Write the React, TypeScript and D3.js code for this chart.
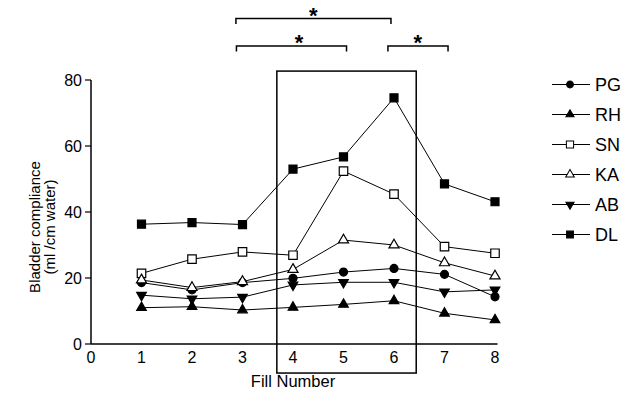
import React from 'react';
import * as d3 from 'd3';

// fill numbers along the x axis
const fills = [1, 2, 3, 4, 5, 6, 7, 8];
const xTicks = [0, 1, 2, 3, 4, 5, 6, 7, 8];
const yTicks = [0, 20, 40, 60, 80];

// bladder compliance per subject (ml /cm water)
const PG = [18.6, 16.4, 18.6, 19.9, 21.8, 22.9, 21.1, 14.3];
const RH = [11.0, 11.3, 10.3, 11.1, 12.0, 13.1, 9.3, 7.3];
const SN = [21.4, 25.7, 27.9, 26.9, 52.4, 45.4, 29.5, 27.5];
const KA = [19.4, 17.1, 18.9, 22.6, 31.5, 30.0, 24.6, 20.6];
const AB = [14.8, 13.7, 14.2, 17.9, 18.7, 18.7, 15.8, 16.4];
const DL = [36.3, 36.8, 36.2, 53.0, 56.7, 74.6, 48.5, 43.1];

const names = ['PG', 'RH', 'SN', 'KA', 'AB', 'DL'];

// significance brackets: [from, to, star position]
const brackets = [
  [2.87, 5.94, 4.4],
  [2.88, 5.06, 4.12],
  [5.88, 7.07, 6.47],
];
const bracketRows = [0, 1, 1];

// highlighted fills 4-6 box (in data units)
const boxX = [3.68, 6.44];
const boxY = [-8.8, 82.7];

const font = 'Liberation Sans, Arial, sans-serif';

const marker = (name: string) => {
  let type = d3.symbolCircle;
  let size = 50;
  let rotate = 0;
  let open = false;
  if (name === 'RH') { type = d3.symbolTriangle; size = 40; }
  if (name === 'SN') { type = d3.symbolSquare; size = 72; open = true; }
  if (name === 'KA') { type = d3.symbolTriangle; size = 44; open = true; }
  if (name === 'AB') { type = d3.symbolTriangle; size = 40; rotate = 180; }
  if (name === 'DL') { type = d3.symbolSquare; size = 64; }
  return { d: d3.symbol().type(type).size(size)() as string, rotate, open };
};

export default function App() {
  const x = d3.scaleLinear().domain([0, 8]).range([91, 495]);
  const y = d3.scaleLinear().domain([0, 80]).range([344, 80]);
  const seriesList = [PG, RH, SN, KA, AB, DL];

  const line = d3
    .line<number>()
    .x((_, i) => x(fills[i]))
    .y((v) => y(v));

  const rowY = [18.5, 46];

  return (
    <svg
      width={640}
      height={399}
      style={{ position: 'absolute', left: 0, top: 0, background: '#fff' }}
      fontFamily={font}
    >
      {/* brackets */}
      {brackets.map((b, i) => {
        const yy = rowY[bracketRows[i]];
        return (
          <g key={'br' + i}>
            <path
              d={`M${x(b[0])},${yy + 5.5}V${yy}H${x(b[1])}V${yy + 5.5}`}
              fill="none"
              stroke="#000"
              strokeWidth={1.5}
            />
            <text x={x(b[2])} y={yy + 4} textAnchor="middle" fontSize={22} fontWeight="bold">
              *
            </text>
          </g>
        );
      })}

      {/* highlight box */}
      <rect
        x={x(boxX[0])}
        y={y(boxY[1])}
        width={x(boxX[1]) - x(boxX[0])}
        height={y(boxY[0]) - y(boxY[1])}
        fill="none"
        stroke="#000"
        strokeWidth={1.5}
      />

      {/* axes */}
      <line x1={x(0)} x2={x(8.05)} y1={y(0)} y2={y(0)} stroke="#000" strokeWidth={1.5} />
      <line x1={x(0)} x2={x(0)} y1={y(0)} y2={y(80)} stroke="#000" strokeWidth={1.5} />
      {yTicks.map((t) => (
        <g key={'yt' + t}>
          <line x1={x(0) - 6} x2={x(0)} y1={y(t)} y2={y(t)} stroke="#000" strokeWidth={1.2} />
          <text x={x(0) - 9} y={y(t) + 5.5} textAnchor="end" fontSize={16}>
            {t}
          </text>
        </g>
      ))}
      {xTicks.map((t) => (
        <text key={'xt' + t} x={x(t)} y={y(0) + 19} textAnchor="middle" fontSize={16}>
          {t}
        </text>
      ))}
      <text x={x(4)} y={387} textAnchor="middle" fontSize={16.5}>
        Fill Number
      </text>
      <text transform={`translate(40,227) rotate(-90)`} textAnchor="middle" fontSize={15}>
        Bladder compliance
      </text>
      <text transform={`translate(55,227) rotate(-90)`} textAnchor="middle" fontSize={15}>
        (ml /cm water)
      </text>

      {/* series lines */}
      {seriesList.map((s, i) => (
        <path key={'l' + i} d={line(s) as string} fill="none" stroke="#000" strokeWidth={1} />
      ))}
      {/* series markers */}
      {seriesList.map((s, i) => {
        const m = marker(names[i]);
        return (
          <g key={'m' + i}>
            {s.map((v, j) => (
              <path
                key={j}
                d={m.d}
                transform={`translate(${x(fills[j])},${y(v)}) rotate(${m.rotate})`}
                fill={m.open ? '#fff' : '#000'}
                stroke="#000"
                strokeWidth={1.2}
              />
            ))}
          </g>
        );
      })}

      {/* legend */}
      {names.map((n, i) => {
        const m = marker(n);
        const cy = 84.5 + i * 30;
        return (
          <g key={'lg' + n}>
            <line x1={552} x2={590} y1={cy} y2={cy} stroke="#000" strokeWidth={1.2} />
            <path
              d={m.d}
              transform={`translate(570,${cy}) rotate(${m.rotate}) scale(0.85)`}
              fill={m.open ? '#fff' : '#000'}
              stroke="#000"
              strokeWidth={1.2}
            />
            <text x={595} y={cy + 6.5} fontSize={18}>
              {n}
            </text>
          </g>
        );
      })}
    </svg>
  );
}
